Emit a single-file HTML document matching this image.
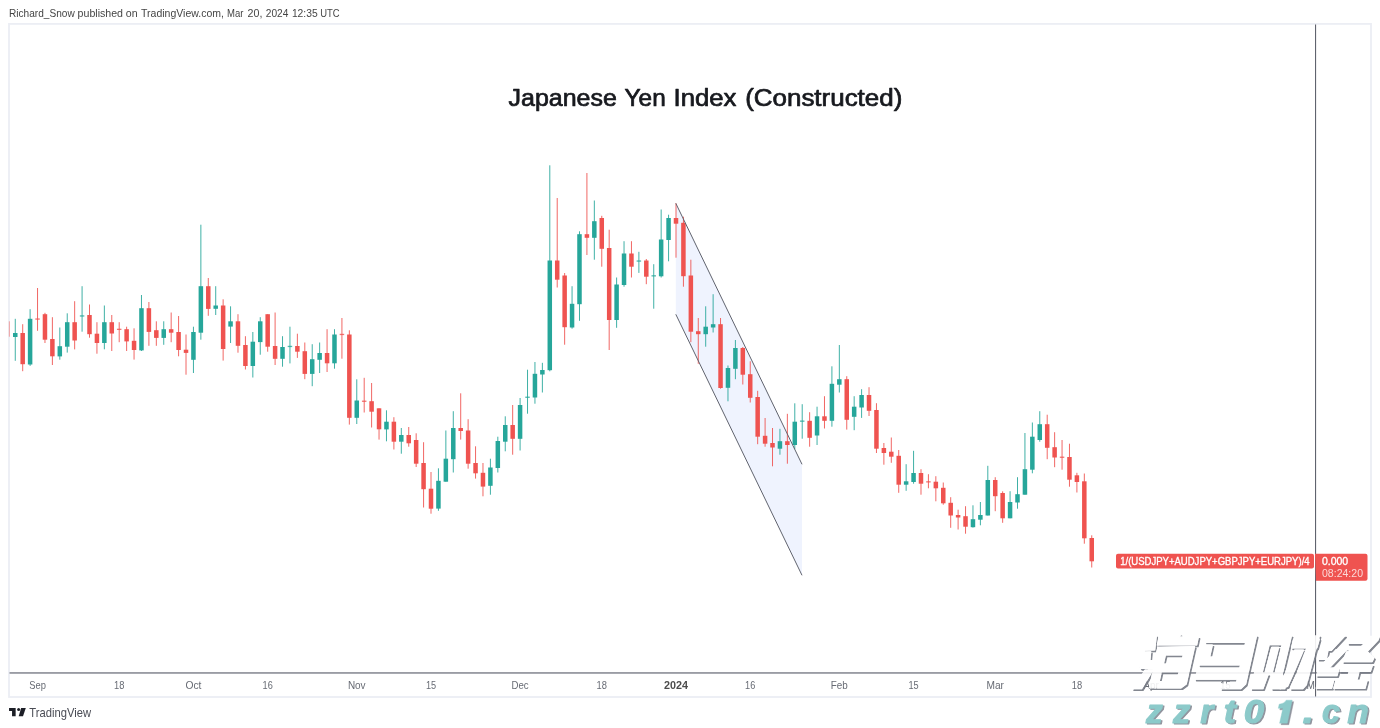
<!DOCTYPE html>
<html><head><meta charset="utf-8"><title>Japanese Yen Index (Constructed)</title>
<style>
html,body{margin:0;padding:0;background:#fff;}
body{width:1380px;height:728px;overflow:hidden;position:relative;font-family:"Liberation Sans",sans-serif;}
svg{position:absolute;left:0;top:0;display:block;will-change:transform;}
text{font-family:"Liberation Sans",sans-serif;}
</style></head><body>
<svg width="1380" height="728" viewBox="0 0 1380 728">
<defs><clipPath id="cpMay"><rect x="1300" y="675" width="15" height="22"/></clipPath></defs>
<rect x="0" y="0" width="1380" height="728" fill="#ffffff"/>
<!-- frame -->
<rect x="9" y="23.9" width="1362" height="673.1" fill="#ffffff" stroke="#eceef4" stroke-width="1.8"/>
<!-- header -->
<g font-size="11" fill="#454545"><text x="9.0" y="16.8" textLength="65.7" lengthAdjust="spacingAndGlyphs">Richard_Snow</text><text x="77.6" y="16.8" textLength="45.4" lengthAdjust="spacingAndGlyphs">published</text><text x="125.8" y="16.8" textLength="11.8" lengthAdjust="spacingAndGlyphs">on</text><text x="141.1" y="16.8" textLength="82.8" lengthAdjust="spacingAndGlyphs">TradingView.com,</text><text x="227.0" y="16.8" textLength="16.4" lengthAdjust="spacingAndGlyphs">Mar</text><text x="247.6" y="16.8" textLength="14.8" lengthAdjust="spacingAndGlyphs">20,</text><text x="265.8" y="16.8" textLength="22.6" lengthAdjust="spacingAndGlyphs">2024</text><text x="291.9" y="16.8" textLength="25.8" lengthAdjust="spacingAndGlyphs">12:35</text><text x="320.2" y="16.8" textLength="19.4" lengthAdjust="spacingAndGlyphs">UTC</text></g>
<!-- title -->
<g font-size="23" fill="#17191e" stroke="#17191e" stroke-width="0.7" stroke-linejoin="round"><text x="508.6" y="106.3" textLength="108.2" lengthAdjust="spacingAndGlyphs">Japanese</text><text x="624.6" y="106.3" textLength="41.1" lengthAdjust="spacingAndGlyphs">Yen</text><text x="673.5" y="106.3" textLength="62.9" lengthAdjust="spacingAndGlyphs">Index</text><text x="745.2" y="106.3" textLength="157.1" lengthAdjust="spacingAndGlyphs">(Constructed)</text></g>
<!-- chart -->
<polygon points="675.8,203.3 802.0,464.3 802.0,575.3 675.8,314.3" fill="#eff3fe"/>
<g opacity="0.88"><rect x="14.76" y="318.8" width="1.0" height="42.0" fill="#26a69a"/><rect x="22.19" y="324.2" width="1.0" height="47.0" fill="#ef5350"/><rect x="29.61" y="309.2" width="1.0" height="56.7" fill="#26a69a"/><rect x="37.03" y="288.0" width="1.0" height="42.8" fill="#ef5350"/><rect x="44.46" y="312.8" width="1.0" height="30.2" fill="#ef5350"/><rect x="51.88" y="317.2" width="1.0" height="47.8" fill="#ef5350"/><rect x="59.31" y="327.5" width="1.0" height="32.2" fill="#26a69a"/><rect x="66.73" y="313.3" width="1.0" height="39.3" fill="#26a69a"/><rect x="74.15" y="301.2" width="1.0" height="48.2" fill="#ef5350"/><rect x="81.58" y="286.2" width="1.0" height="45.5" fill="#26a69a"/><rect x="89.00" y="304.5" width="1.0" height="33.2" fill="#ef5350"/><rect x="96.43" y="322.2" width="1.0" height="31.5" fill="#ef5350"/><rect x="103.85" y="305.5" width="1.0" height="43.8" fill="#26a69a"/><rect x="111.27" y="315.0" width="1.0" height="36.0" fill="#ef5350"/><rect x="118.70" y="322.2" width="1.0" height="20.0" fill="#ef5350"/><rect x="126.12" y="326.7" width="1.0" height="24.3" fill="#ef5350"/><rect x="133.55" y="328.3" width="1.0" height="31.3" fill="#ef5350"/><rect x="140.97" y="295.0" width="1.0" height="56.0" fill="#26a69a"/><rect x="148.39" y="302.0" width="1.0" height="43.8" fill="#ef5350"/><rect x="155.82" y="321.3" width="1.0" height="24.5" fill="#ef5350"/><rect x="163.24" y="321.3" width="1.0" height="23.5" fill="#26a69a"/><rect x="170.66" y="312.5" width="1.0" height="29.7" fill="#ef5350"/><rect x="178.09" y="316.0" width="1.0" height="40.3" fill="#ef5350"/><rect x="185.51" y="334.5" width="1.0" height="40.2" fill="#ef5350"/><rect x="192.94" y="326.7" width="1.0" height="46.3" fill="#26a69a"/><rect x="200.36" y="224.7" width="1.0" height="115.0" fill="#26a69a"/><rect x="207.78" y="278.0" width="1.0" height="37.8" fill="#ef5350"/><rect x="215.21" y="286.2" width="1.0" height="28.8" fill="#26a69a"/><rect x="222.63" y="299.3" width="1.0" height="61.3" fill="#ef5350"/><rect x="230.06" y="306.3" width="1.0" height="36.7" fill="#26a69a"/><rect x="237.48" y="314.2" width="1.0" height="38.5" fill="#ef5350"/><rect x="244.91" y="336.2" width="1.0" height="33.3" fill="#ef5350"/><rect x="252.33" y="332.0" width="1.0" height="45.5" fill="#26a69a"/><rect x="259.75" y="317.2" width="1.0" height="37.5" fill="#26a69a"/><rect x="267.18" y="314.2" width="1.0" height="37.5" fill="#ef5350"/><rect x="274.60" y="312.5" width="1.0" height="52.5" fill="#ef5350"/><rect x="282.02" y="336.2" width="1.0" height="30.5" fill="#26a69a"/><rect x="289.45" y="326.7" width="1.0" height="36.7" fill="#26a69a"/><rect x="296.87" y="333.7" width="1.0" height="24.2" fill="#ef5350"/><rect x="304.30" y="342.5" width="1.0" height="36.7" fill="#ef5350"/><rect x="311.72" y="344.2" width="1.0" height="42.0" fill="#26a69a"/><rect x="319.14" y="342.5" width="1.0" height="30.5" fill="#26a69a"/><rect x="326.57" y="329.2" width="1.0" height="42.8" fill="#ef5350"/><rect x="333.99" y="329.2" width="1.0" height="39.5" fill="#26a69a"/><rect x="341.42" y="318.0" width="1.0" height="40.7" fill="#ef5350"/><rect x="348.84" y="330.3" width="1.0" height="94.3" fill="#ef5350"/><rect x="356.26" y="379.3" width="1.0" height="44.7" fill="#26a69a"/><rect x="363.69" y="377.8" width="1.0" height="34.7" fill="#ef5350"/><rect x="371.11" y="383.0" width="1.0" height="44.5" fill="#ef5350"/><rect x="378.54" y="408.3" width="1.0" height="31.3" fill="#ef5350"/><rect x="385.96" y="410.3" width="1.0" height="31.0" fill="#26a69a"/><rect x="393.38" y="417.2" width="1.0" height="32.3" fill="#ef5350"/><rect x="400.81" y="428.0" width="1.0" height="25.7" fill="#26a69a"/><rect x="408.23" y="427.0" width="1.0" height="19.7" fill="#ef5350"/><rect x="415.66" y="433.3" width="1.0" height="33.7" fill="#ef5350"/><rect x="423.08" y="442.2" width="1.0" height="65.3" fill="#ef5350"/><rect x="430.50" y="472.0" width="1.0" height="41.7" fill="#ef5350"/><rect x="437.93" y="468.3" width="1.0" height="42.5" fill="#26a69a"/><rect x="445.35" y="430.5" width="1.0" height="51.2" fill="#26a69a"/><rect x="452.78" y="411.2" width="1.0" height="61.3" fill="#26a69a"/><rect x="460.20" y="393.3" width="1.0" height="46.3" fill="#ef5350"/><rect x="467.62" y="419.2" width="1.0" height="49.5" fill="#ef5350"/><rect x="475.05" y="446.3" width="1.0" height="32.3" fill="#ef5350"/><rect x="482.47" y="463.0" width="1.0" height="33.3" fill="#ef5350"/><rect x="489.90" y="458.7" width="1.0" height="36.0" fill="#26a69a"/><rect x="497.32" y="436.7" width="1.0" height="35.8" fill="#26a69a"/><rect x="504.75" y="416.3" width="1.0" height="35.0" fill="#26a69a"/><rect x="512.17" y="405.0" width="1.0" height="49.7" fill="#ef5350"/><rect x="519.59" y="398.0" width="1.0" height="52.5" fill="#26a69a"/><rect x="527.02" y="369.7" width="1.0" height="44.0" fill="#26a69a"/><rect x="534.44" y="362.0" width="1.0" height="41.7" fill="#26a69a"/><rect x="541.87" y="362.8" width="1.0" height="29.7" fill="#26a69a"/><rect x="549.29" y="165.3" width="1.0" height="206.0" fill="#26a69a"/><rect x="556.71" y="198.0" width="1.0" height="89.5" fill="#ef5350"/><rect x="564.14" y="273.0" width="1.0" height="71.7" fill="#ef5350"/><rect x="571.56" y="286.2" width="1.0" height="42.5" fill="#26a69a"/><rect x="578.99" y="231.3" width="1.0" height="89.5" fill="#26a69a"/><rect x="586.41" y="173.0" width="1.0" height="82.0" fill="#ef5350"/><rect x="593.83" y="200.5" width="1.0" height="59.2" fill="#26a69a"/><rect x="601.26" y="215.8" width="1.0" height="50.9" fill="#ef5350"/><rect x="608.68" y="229.7" width="1.0" height="120.3" fill="#ef5350"/><rect x="616.11" y="277.5" width="1.0" height="50.3" fill="#26a69a"/><rect x="623.53" y="241.2" width="1.0" height="45.5" fill="#26a69a"/><rect x="630.95" y="241.2" width="1.0" height="36.3" fill="#ef5350"/><rect x="638.38" y="251.8" width="1.0" height="21.1" fill="#26a69a"/><rect x="645.80" y="259.0" width="1.0" height="25.2" fill="#ef5350"/><rect x="653.23" y="264.2" width="1.0" height="44.5" fill="#26a69a"/><rect x="660.65" y="209.5" width="1.0" height="68.0" fill="#26a69a"/><rect x="668.07" y="214.7" width="1.0" height="46.6" fill="#26a69a"/><rect x="675.50" y="203.3" width="1.0" height="54.4" fill="#ef5350"/><rect x="682.92" y="216.7" width="1.0" height="70.0" fill="#ef5350"/><rect x="690.35" y="259.7" width="1.0" height="82.5" fill="#ef5350"/><rect x="697.77" y="318.0" width="1.0" height="45.8" fill="#ef5350"/><rect x="705.19" y="306.3" width="1.0" height="40.4" fill="#26a69a"/><rect x="712.62" y="294.2" width="1.0" height="38.3" fill="#26a69a"/><rect x="720.04" y="318.0" width="1.0" height="70.7" fill="#ef5350"/><rect x="727.47" y="365.5" width="1.0" height="35.8" fill="#26a69a"/><rect x="734.89" y="340.0" width="1.0" height="39.2" fill="#26a69a"/><rect x="742.31" y="347.0" width="1.0" height="37.5" fill="#ef5350"/><rect x="749.74" y="361.3" width="1.0" height="41.2" fill="#ef5350"/><rect x="757.16" y="390.8" width="1.0" height="53.4" fill="#ef5350"/><rect x="764.59" y="418.0" width="1.0" height="28.7" fill="#ef5350"/><rect x="772.01" y="428.0" width="1.0" height="38.3" fill="#ef5350"/><rect x="779.43" y="428.8" width="1.0" height="25.9" fill="#26a69a"/><rect x="786.86" y="413.8" width="1.0" height="49.9" fill="#ef5350"/><rect x="794.28" y="403.3" width="1.0" height="45.9" fill="#26a69a"/><rect x="801.71" y="404.2" width="1.0" height="34.5" fill="#26a69a"/><rect x="809.13" y="412.2" width="1.0" height="34.5" fill="#ef5350"/><rect x="816.55" y="406.7" width="1.0" height="38.3" fill="#26a69a"/><rect x="823.98" y="396.2" width="1.0" height="32.3" fill="#ef5350"/><rect x="831.40" y="366.3" width="1.0" height="60.4" fill="#26a69a"/><rect x="838.83" y="345.0" width="1.0" height="47.5" fill="#26a69a"/><rect x="846.25" y="376.2" width="1.0" height="53.4" fill="#ef5350"/><rect x="853.67" y="396.2" width="1.0" height="34.0" fill="#26a69a"/><rect x="861.10" y="389.2" width="1.0" height="28.7" fill="#26a69a"/><rect x="868.52" y="387.2" width="1.0" height="28.8" fill="#ef5350"/><rect x="875.95" y="403.2" width="1.0" height="49.8" fill="#ef5350"/><rect x="883.37" y="443.0" width="1.0" height="21.7" fill="#ef5350"/><rect x="890.79" y="437.5" width="1.0" height="25.3" fill="#ef5350"/><rect x="898.22" y="450.0" width="1.0" height="42.8" fill="#ef5350"/><rect x="905.64" y="464.2" width="1.0" height="26.6" fill="#26a69a"/><rect x="913.07" y="450.8" width="1.0" height="32.9" fill="#26a69a"/><rect x="920.49" y="469.2" width="1.0" height="25.5" fill="#ef5350"/><rect x="927.91" y="474.2" width="1.0" height="14.1" fill="#ef5350"/><rect x="935.34" y="476.2" width="1.0" height="25.1" fill="#ef5350"/><rect x="942.76" y="482.5" width="1.0" height="22.2" fill="#ef5350"/><rect x="950.19" y="497.2" width="1.0" height="30.6" fill="#ef5350"/><rect x="957.61" y="509.7" width="1.0" height="19.8" fill="#ef5350"/><rect x="965.03" y="506.2" width="1.0" height="27.5" fill="#ef5350"/><rect x="972.46" y="505.3" width="1.0" height="22.3" fill="#26a69a"/><rect x="979.88" y="502.0" width="1.0" height="23.3" fill="#26a69a"/><rect x="987.31" y="465.8" width="1.0" height="49.7" fill="#26a69a"/><rect x="994.73" y="477.2" width="1.0" height="34.0" fill="#ef5350"/><rect x="1002.15" y="491.3" width="1.0" height="31.5" fill="#ef5350"/><rect x="1009.58" y="491.2" width="1.0" height="27.1" fill="#26a69a"/><rect x="1017.00" y="477.2" width="1.0" height="31.5" fill="#26a69a"/><rect x="1024.43" y="433.0" width="1.0" height="61.7" fill="#26a69a"/><rect x="1031.85" y="422.5" width="1.0" height="50.8" fill="#26a69a"/><rect x="1039.27" y="411.2" width="1.0" height="30.5" fill="#26a69a"/><rect x="1046.70" y="414.7" width="1.0" height="44.5" fill="#ef5350"/><rect x="1054.12" y="432.2" width="1.0" height="35.0" fill="#ef5350"/><rect x="1061.55" y="440.0" width="1.0" height="29.7" fill="#ef5350"/><rect x="1068.97" y="443.7" width="1.0" height="43.0" fill="#ef5350"/><rect x="1076.39" y="472.8" width="1.0" height="19.7" fill="#ef5350"/><rect x="1083.82" y="473.5" width="1.0" height="70.2" fill="#ef5350"/><rect x="1091.24" y="535.3" width="1.0" height="32.2" fill="#ef5350"/></g>
<g><rect x="13.01" y="333.0" width="4.5" height="4.0" fill="#26a69a"/><rect x="20.44" y="333.0" width="4.5" height="31.2" fill="#ef5350"/><rect x="27.86" y="318.8" width="4.5" height="45.7" fill="#26a69a"/><rect x="35.28" y="318.4" width="4.5" height="1.3" fill="#ef5350" opacity="0.8"/><rect x="42.71" y="314.2" width="4.5" height="25.5" fill="#ef5350"/><rect x="50.13" y="339.0" width="4.5" height="17.3" fill="#ef5350"/><rect x="57.56" y="346.2" width="4.5" height="10.2" fill="#26a69a"/><rect x="64.98" y="322.2" width="4.5" height="24.5" fill="#26a69a"/><rect x="72.40" y="322.2" width="4.5" height="18.3" fill="#ef5350"/><rect x="79.83" y="315.3" width="4.5" height="1.3" fill="#26a69a" opacity="0.8"/><rect x="87.25" y="315.0" width="4.5" height="19.2" fill="#ef5350"/><rect x="94.68" y="333.7" width="4.5" height="9.3" fill="#ef5350"/><rect x="102.10" y="322.2" width="4.5" height="20.8" fill="#26a69a"/><rect x="109.52" y="322.2" width="4.5" height="11.3" fill="#ef5350"/><rect x="116.95" y="328.7" width="4.5" height="1.3" fill="#ef5350" opacity="0.8"/><rect x="124.37" y="329.2" width="4.5" height="12.2" fill="#ef5350"/><rect x="131.80" y="340.8" width="4.5" height="9.2" fill="#ef5350"/><rect x="139.22" y="308.2" width="4.5" height="42.2" fill="#26a69a"/><rect x="146.64" y="308.2" width="4.5" height="23.7" fill="#ef5350"/><rect x="154.07" y="330.2" width="4.5" height="7.7" fill="#ef5350"/><rect x="161.49" y="329.2" width="4.5" height="8.7" fill="#26a69a"/><rect x="168.91" y="329.2" width="4.5" height="3.5" fill="#ef5350"/><rect x="176.34" y="332.0" width="4.5" height="18.0" fill="#ef5350"/><rect x="183.76" y="349.7" width="4.5" height="3.2" fill="#ef5350"/><rect x="191.19" y="332.0" width="4.5" height="27.8" fill="#26a69a"/><rect x="198.61" y="286.2" width="4.5" height="46.5" fill="#26a69a"/><rect x="206.03" y="286.2" width="4.5" height="22.7" fill="#ef5350"/><rect x="213.46" y="305.5" width="4.5" height="3.3" fill="#26a69a"/><rect x="220.88" y="305.5" width="4.5" height="43.5" fill="#ef5350"/><rect x="228.31" y="321.3" width="4.5" height="5.3" fill="#26a69a"/><rect x="235.73" y="321.3" width="4.5" height="24.5" fill="#ef5350"/><rect x="243.16" y="345.0" width="4.5" height="21.0" fill="#ef5350"/><rect x="250.58" y="341.7" width="4.5" height="24.3" fill="#26a69a"/><rect x="258.00" y="321.3" width="4.5" height="20.8" fill="#26a69a"/><rect x="265.43" y="314.2" width="4.5" height="32.5" fill="#ef5350"/><rect x="272.85" y="346.0" width="4.5" height="12.8" fill="#ef5350"/><rect x="280.27" y="347.0" width="4.5" height="11.8" fill="#26a69a"/><rect x="287.70" y="345.8" width="4.5" height="1.3" fill="#26a69a" opacity="0.8"/><rect x="295.12" y="346.0" width="4.5" height="5.7" fill="#ef5350"/><rect x="302.55" y="351.2" width="4.5" height="22.7" fill="#ef5350"/><rect x="309.97" y="359.2" width="4.5" height="14.7" fill="#26a69a"/><rect x="317.39" y="353.0" width="4.5" height="6.8" fill="#26a69a"/><rect x="324.82" y="353.0" width="4.5" height="10.3" fill="#ef5350"/><rect x="332.24" y="334.5" width="4.5" height="28.8" fill="#26a69a"/><rect x="339.67" y="333.8" width="4.5" height="1.3" fill="#ef5350" opacity="0.8"/><rect x="347.09" y="334.5" width="4.5" height="83.3" fill="#ef5350"/><rect x="354.51" y="400.5" width="4.5" height="17.3" fill="#26a69a"/><rect x="361.94" y="400.6" width="4.5" height="1.3" fill="#ef5350" opacity="0.8"/><rect x="369.36" y="401.2" width="4.5" height="10.5" fill="#ef5350"/><rect x="376.79" y="408.3" width="4.5" height="21.0" fill="#ef5350"/><rect x="384.21" y="421.7" width="4.5" height="7.7" fill="#26a69a"/><rect x="391.63" y="421.7" width="4.5" height="20.0" fill="#ef5350"/><rect x="399.06" y="435.0" width="4.5" height="6.7" fill="#26a69a"/><rect x="406.48" y="435.0" width="4.5" height="8.3" fill="#ef5350"/><rect x="413.91" y="440.0" width="4.5" height="23.7" fill="#ef5350"/><rect x="421.33" y="463.0" width="4.5" height="26.2" fill="#ef5350"/><rect x="428.75" y="488.7" width="4.5" height="20.0" fill="#ef5350"/><rect x="436.18" y="480.8" width="4.5" height="27.8" fill="#26a69a"/><rect x="443.60" y="458.7" width="4.5" height="23.0" fill="#26a69a"/><rect x="451.03" y="428.0" width="4.5" height="31.2" fill="#26a69a"/><rect x="458.45" y="428.0" width="4.5" height="3.0" fill="#ef5350"/><rect x="465.88" y="430.5" width="4.5" height="33.2" fill="#ef5350"/><rect x="473.30" y="463.0" width="4.5" height="10.3" fill="#ef5350"/><rect x="480.72" y="472.8" width="4.5" height="13.8" fill="#ef5350"/><rect x="488.15" y="467.5" width="4.5" height="18.3" fill="#26a69a"/><rect x="495.57" y="441.0" width="4.5" height="27.0" fill="#26a69a"/><rect x="503.00" y="425.0" width="4.5" height="16.7" fill="#26a69a"/><rect x="510.42" y="425.0" width="4.5" height="13.8" fill="#ef5350"/><rect x="517.84" y="405.0" width="4.5" height="33.8" fill="#26a69a"/><rect x="525.27" y="396.6" width="4.5" height="1.3" fill="#26a69a" opacity="0.8"/><rect x="532.69" y="373.8" width="4.5" height="23.7" fill="#26a69a"/><rect x="540.12" y="370.0" width="4.5" height="4.5" fill="#26a69a"/><rect x="547.54" y="260.5" width="4.5" height="109.7" fill="#26a69a"/><rect x="554.96" y="260.5" width="4.5" height="19.2" fill="#ef5350"/><rect x="562.39" y="275.5" width="4.5" height="51.7" fill="#ef5350"/><rect x="569.81" y="303.8" width="4.5" height="23.7" fill="#26a69a"/><rect x="577.24" y="234.2" width="4.5" height="70.0" fill="#26a69a"/><rect x="584.66" y="234.2" width="4.5" height="3.6" fill="#ef5350"/><rect x="592.08" y="221.2" width="4.5" height="16.6" fill="#26a69a"/><rect x="599.51" y="218.0" width="4.5" height="30.8" fill="#ef5350"/><rect x="606.93" y="248.0" width="4.5" height="72.0" fill="#ef5350"/><rect x="614.36" y="284.5" width="4.5" height="35.5" fill="#26a69a"/><rect x="621.78" y="253.5" width="4.5" height="31.5" fill="#26a69a"/><rect x="629.20" y="253.5" width="4.5" height="13.2" fill="#ef5350"/><rect x="636.63" y="260.4" width="4.5" height="1.3" fill="#26a69a" opacity="0.8"/><rect x="644.05" y="260.5" width="4.5" height="16.2" fill="#ef5350"/><rect x="651.48" y="275.2" width="4.5" height="1.3" fill="#26a69a" opacity="0.8"/><rect x="658.90" y="239.5" width="4.5" height="36.8" fill="#26a69a"/><rect x="666.32" y="218.0" width="4.5" height="22.0" fill="#26a69a"/><rect x="673.75" y="218.0" width="4.5" height="5.7" fill="#ef5350"/><rect x="681.17" y="222.8" width="4.5" height="53.4" fill="#ef5350"/><rect x="688.60" y="275.5" width="4.5" height="56.2" fill="#ef5350"/><rect x="696.02" y="331.2" width="4.5" height="3.0" fill="#ef5350"/><rect x="703.44" y="326.7" width="4.5" height="7.5" fill="#26a69a"/><rect x="710.87" y="324.2" width="4.5" height="3.3" fill="#26a69a"/><rect x="718.29" y="324.2" width="4.5" height="63.8" fill="#ef5350"/><rect x="725.72" y="368.0" width="4.5" height="19.8" fill="#26a69a"/><rect x="733.14" y="348.0" width="4.5" height="20.8" fill="#26a69a"/><rect x="740.56" y="348.0" width="4.5" height="26.7" fill="#ef5350"/><rect x="747.99" y="374.2" width="4.5" height="23.6" fill="#ef5350"/><rect x="755.41" y="397.0" width="4.5" height="39.7" fill="#ef5350"/><rect x="762.84" y="435.8" width="4.5" height="7.9" fill="#ef5350"/><rect x="770.26" y="443.0" width="4.5" height="4.5" fill="#ef5350"/><rect x="777.68" y="441.2" width="4.5" height="7.5" fill="#26a69a"/><rect x="785.11" y="441.2" width="4.5" height="3.8" fill="#ef5350"/><rect x="792.53" y="421.7" width="4.5" height="23.3" fill="#26a69a"/><rect x="799.96" y="420.5" width="4.5" height="1.3" fill="#26a69a" opacity="0.8"/><rect x="807.38" y="420.8" width="4.5" height="17.0" fill="#ef5350"/><rect x="814.80" y="416.3" width="4.5" height="19.2" fill="#26a69a"/><rect x="822.23" y="416.3" width="4.5" height="4.5" fill="#ef5350"/><rect x="829.65" y="383.8" width="4.5" height="37.0" fill="#26a69a"/><rect x="837.08" y="379.2" width="4.5" height="5.5" fill="#26a69a"/><rect x="844.50" y="379.2" width="4.5" height="40.6" fill="#ef5350"/><rect x="851.92" y="406.7" width="4.5" height="10.1" fill="#26a69a"/><rect x="859.35" y="395.0" width="4.5" height="12.5" fill="#26a69a"/><rect x="866.77" y="395.0" width="4.5" height="15.8" fill="#ef5350"/><rect x="874.20" y="410.0" width="4.5" height="38.7" fill="#ef5350"/><rect x="881.62" y="448.0" width="4.5" height="5.0" fill="#ef5350"/><rect x="889.04" y="451.7" width="4.5" height="5.0" fill="#ef5350"/><rect x="896.47" y="455.8" width="4.5" height="28.9" fill="#ef5350"/><rect x="903.89" y="481.3" width="4.5" height="3.4" fill="#26a69a"/><rect x="911.32" y="473.0" width="4.5" height="9.0" fill="#26a69a"/><rect x="918.74" y="473.0" width="4.5" height="10.7" fill="#ef5350"/><rect x="926.16" y="481.2" width="4.5" height="1.3" fill="#ef5350" opacity="0.8"/><rect x="933.59" y="481.7" width="4.5" height="6.6" fill="#ef5350"/><rect x="941.01" y="487.8" width="4.5" height="15.5" fill="#ef5350"/><rect x="948.44" y="502.8" width="4.5" height="12.7" fill="#ef5350"/><rect x="955.86" y="515.0" width="4.5" height="2.5" fill="#ef5350"/><rect x="963.28" y="516.2" width="4.5" height="10.5" fill="#ef5350"/><rect x="970.71" y="519.2" width="4.5" height="8.0" fill="#26a69a"/><rect x="978.13" y="515.0" width="4.5" height="4.7" fill="#26a69a"/><rect x="985.56" y="480.0" width="4.5" height="35.5" fill="#26a69a"/><rect x="992.98" y="480.0" width="4.5" height="16.2" fill="#ef5350"/><rect x="1000.40" y="493.0" width="4.5" height="25.3" fill="#ef5350"/><rect x="1007.83" y="502.0" width="4.5" height="16.3" fill="#26a69a"/><rect x="1015.25" y="494.2" width="4.5" height="8.3" fill="#26a69a"/><rect x="1022.68" y="469.2" width="4.5" height="25.5" fill="#26a69a"/><rect x="1030.10" y="436.7" width="4.5" height="33.0" fill="#26a69a"/><rect x="1037.52" y="424.2" width="4.5" height="15.8" fill="#26a69a"/><rect x="1044.95" y="424.2" width="4.5" height="23.6" fill="#ef5350"/><rect x="1052.37" y="447.2" width="4.5" height="10.3" fill="#ef5350"/><rect x="1059.80" y="456.6" width="4.5" height="1.3" fill="#ef5350" opacity="0.8"/><rect x="1067.22" y="457.0" width="4.5" height="22.7" fill="#ef5350"/><rect x="1074.64" y="475.3" width="4.5" height="6.7" fill="#ef5350"/><rect x="1082.07" y="481.3" width="4.5" height="57.0" fill="#ef5350"/><rect x="1089.49" y="538.0" width="4.5" height="23.3" fill="#ef5350"/></g>
<line x1="675.8" y1="203.3" x2="802.0" y2="464.3" stroke="#60636e" stroke-width="1.0"/>
<line x1="675.8" y1="314.3" x2="802.0" y2="575.3" stroke="#60636e" stroke-width="1.0"/>
<rect x="8.9" y="321.3" width="0.9" height="15.4" fill="#ef5350" opacity="0.55"/>
<!-- axes -->
<rect x="9.5" y="672.3" width="1361" height="1.3" fill="#70737e"/>
<rect x="1315" y="24.5" width="1.1" height="672" fill="#60636e"/>
<g font-size="11.5" fill="#666a73" opacity="0.99"><text x="29.2" y="688.7" textLength="16.7" lengthAdjust="spacingAndGlyphs">Sep</text><text x="114.0" y="688.7" textLength="10.4" lengthAdjust="spacingAndGlyphs">18</text><text x="185.4" y="688.7" textLength="16" lengthAdjust="spacingAndGlyphs">Oct</text><text x="262.6" y="688.7" textLength="10.2" lengthAdjust="spacingAndGlyphs">16</text><text x="347.9" y="688.7" textLength="17.7" lengthAdjust="spacingAndGlyphs">Nov</text><text x="425.9" y="688.7" textLength="10.2" lengthAdjust="spacingAndGlyphs">15</text><text x="511.5" y="688.7" textLength="17.2" lengthAdjust="spacingAndGlyphs">Dec</text><text x="596.6" y="688.7" textLength="10.4" lengthAdjust="spacingAndGlyphs">18</text><text x="664.0" y="688.7" textLength="24" lengthAdjust="spacingAndGlyphs" font-weight="bold" fill="#4a4a4a">2024</text><text x="745.1" y="688.7" textLength="10.2" lengthAdjust="spacingAndGlyphs">16</text><text x="830.8" y="688.7" textLength="17" lengthAdjust="spacingAndGlyphs">Feb</text><text x="908.5" y="688.7" textLength="10.2" lengthAdjust="spacingAndGlyphs">15</text><text x="986.5" y="688.7" textLength="17.5" lengthAdjust="spacingAndGlyphs">Mar</text><text x="1071.7" y="688.7" textLength="10.4" lengthAdjust="spacingAndGlyphs">18</text><text x="1143.4" y="688.7" textLength="15.5" lengthAdjust="spacingAndGlyphs">Apr</text><text x="1220.3" y="688.7" textLength="10.2" lengthAdjust="spacingAndGlyphs">15</text><text x="1306.5" y="688.7" textLength="19" lengthAdjust="spacingAndGlyphs" clip-path="url(#cpMay)">May</text></g>
<!-- labels -->
<rect x="1116" y="553.8" width="198" height="14.8" rx="2" fill="#ef5350"/>
<text x="1120.2" y="564.5" font-size="10" fill="#fff" stroke="#fff" stroke-width="0.3" textLength="189.4" lengthAdjust="spacingAndGlyphs">1/(USDJPY+AUDJPY+GBPJPY+EURJPY)/4</text>
<path d="M1315 553.8h50.5a2 2 0 0 1 2 2v23a2 2 0 0 1 -2 2h-49.5z" fill="#ef5350"/>
<text x="1322" y="564.6" font-size="10" fill="#fff" stroke="#fff" stroke-width="0.3" textLength="26.2" lengthAdjust="spacingAndGlyphs">0.000</text>
<text x="1322" y="577.3" font-size="10" fill="#fbd8d7" textLength="41" lengthAdjust="spacingAndGlyphs">08:24:20</text>
<!-- tv logo -->
<g fill="#1c1e26">
<path d="M9.05 708h6.6v8.15h-3.6v-5.1H9.05z"/>
<circle cx="18.65" cy="709.45" r="1.5"/>
<path d="M21.1 708h4.7l-2.8 8.15h-4.3z"/>
</g>
<text x="29.3" y="716.5" font-size="12.2" fill="#4a4c55" textLength="61.7" lengthAdjust="spacingAndGlyphs">TradingView</text>
<defs><g id="wmg" fill-rule="evenodd" stroke-linejoin="round"><path d="M1145.7 636.2 L1156.3 635.9 L1154.7 650.0 L1144.2 650.2Z"/><path d="M1141.6 652.1 L1150.7 651.8 L1149.1 668.4 L1140.7 668.4 L1139.0 665.4Z"/><path d="M1145.1 670.2 L1152.9 670.2 L1141.6 688.7 L1132.5 688.7Z"/><path d="M1159.0 637.2 L1172.2 637.2 L1173.8 634.7 L1180.3 634.7 L1179.2 637.2 L1198.3 637.2 L1196.6 645.0 L1157.4 645.0Z"/><path d="M1157.9 647.3 L1194.6 646.7 L1186.2 684.1 L1181.1 687.8 L1149.5 687.8 L1153.5 669.1 L1148.4 669.1 L1149.5 660.7 L1154.7 660.7ZM1165.4 654.9 L1183.4 654.9 L1181.1 664.0 L1163.3 664.0ZM1161.3 671.9 L1179.0 671.9 L1176.9 681.7 L1159.1 681.7Z"/><path d="M1207.0 635.9 L1256.5 635.9 L1245.6 684.1 L1240.6 688.7 L1221.0 688.7 L1222.1 684.1 L1236.2 684.1 L1245.7 642.5 L1205.4 642.5Z"/><path d="M1203.7 645.1 L1212.3 645.1 L1209.6 657.0 L1244.8 657.0 L1242.9 664.9 L1199.0 664.9Z"/><path d="M1197.0 671.7 L1238.5 671.7 L1236.6 679.2 L1195.1 679.2Z"/><path d="M1263.8 635.9 L1291.4 635.9 L1282.2 674.7 L1254.1 674.7ZM1269.2 644.6 L1282.2 644.6 L1275.2 672.9 L1272.2 672.9 L1278.6 647.3 L1271.8 647.3 L1265.0 672.9 L1262.1 672.9Z"/><path d="M1255.0 674.7 L1268.0 674.7 L1262.9 688.7 L1251.2 688.7Z"/><path d="M1270.8 674.7 L1282.5 674.7 L1284.9 688.7 L1271.8 688.7Z"/><path d="M1293.6 639.2 L1319.3 639.2 L1316.8 647.9 L1291.6 647.9Z"/><path d="M1310.6 635.9 L1319.3 635.9 L1306.5 684.5 L1302.8 688.6 L1290.5 688.6 L1291.2 685.9 L1297.2 672.9 L1306.9 647.9Z"/><path d="M1294.6 650.2 L1303.4 650.2 L1293.6 672.9 L1287.5 686.4 L1280.2 688.7 L1278.8 685.9 L1285.4 672.9Z"/><path d="M1334.6 635.9 L1344.9 635.9 L1331.3 650.4 L1321.0 650.4Z"/><path d="M1320.1 650.4 L1328.0 650.4 L1326.2 659.3 L1318.2 659.3Z"/><path d="M1336.4 649.5 L1346.7 649.5 L1329.0 668.2 L1318.7 668.2Z"/><path d="M1318.7 668.2 L1339.3 668.2 L1336.9 675.7 L1316.6 675.7Z"/><path d="M1318.2 679.9 L1333.8 679.9 L1331.6 688.3 L1316.1 688.3Z"/><path d="M1349.5 636.4 L1379.4 636.4 L1378.0 640.1 L1366.8 651.8 L1356.1 651.8 L1364.5 643.4 L1348.1 643.4Z"/><path d="M1346.7 651.8 L1367.3 651.8 L1373.8 657.9 L1372.1 661.6 L1342.8 661.6Z"/><path d="M1341.9 665.0 L1372.5 665.0 L1370.3 671.5 L1340.2 671.5Z"/><path d="M1349.1 671.5 L1359.1 671.5 L1356.8 680.3 L1346.7 680.3Z"/><path d="M1336.0 680.3 L1367.1 680.3 L1365.0 688.3 L1333.8 688.3Z"/></g><mask id="wmm" maskUnits="userSpaceOnUse" x="1100" y="600" width="280" height="128"><rect x="1100" y="600" width="280" height="128" fill="#fff"/><use href="#wmg" fill="#000" stroke="#000" stroke-width="1.2"/></mask><filter id="wmb" x="-5%" y="-10%" width="110%" height="120%"><feGaussianBlur stdDeviation="0.6"/></filter></defs><g mask="url(#wmm)"><use href="#wmg" transform="translate(1.4,1.6)" fill="#767a84" stroke="#767a84" stroke-width="1.4" opacity="0.9" filter="url(#wmb)"/></g><use href="#wmg" fill="#ffffff" stroke="#ffffff" stroke-width="1.2" opacity="0.9"/><g transform="translate(1.5,1.5)" font-size="32.5" font-weight="bold" font-style="italic" fill="#858994" stroke="#858994" stroke-width="1.0" stroke-linejoin="round" opacity="0.9"><text transform="translate(1145.97,722.9) scale(1.032,1)">z</text><text transform="translate(1172.97,722.9) scale(1.063,1)">z</text><text transform="translate(1200.33,722.9) scale(1.031,1)">r</text><text transform="translate(1223.66,722.9) scale(1.127,1)">t</text><text transform="translate(1243.76,722.9) scale(1.129,1)">0</text><text transform="translate(1302.48,722.9) scale(1.285,1)">.</text><text transform="translate(1321.90,722.9) scale(0.994,1)">c</text><text transform="translate(1347.20,722.9) scale(1.087,1)">n</text><path d="M1292.2 700.2 L1287.3 723.2 L1279.6 723.2 L1282.9 708.3 L1278.3 708.3 L1279.2 704.2 Q1284.5 703.8 1286.2 700.2 Z" stroke-width="0.4"/></g><g transform="translate(0,0)" font-size="32.5" font-weight="bold" font-style="italic" fill="#8ccaca" stroke="#8ccaca" stroke-width="1.0" stroke-linejoin="round" ><text transform="translate(1145.97,722.9) scale(1.032,1)">z</text><text transform="translate(1172.97,722.9) scale(1.063,1)">z</text><text transform="translate(1200.33,722.9) scale(1.031,1)">r</text><text transform="translate(1223.66,722.9) scale(1.127,1)">t</text><text transform="translate(1243.76,722.9) scale(1.129,1)">0</text><text transform="translate(1302.48,722.9) scale(1.285,1)">.</text><text transform="translate(1321.90,722.9) scale(0.994,1)">c</text><text transform="translate(1347.20,722.9) scale(1.087,1)">n</text><path d="M1292.2 700.2 L1287.3 723.2 L1279.6 723.2 L1282.9 708.3 L1278.3 708.3 L1279.2 704.2 Q1284.5 703.8 1286.2 700.2 Z" stroke-width="0.4"/></g>
</svg>
</body></html>
